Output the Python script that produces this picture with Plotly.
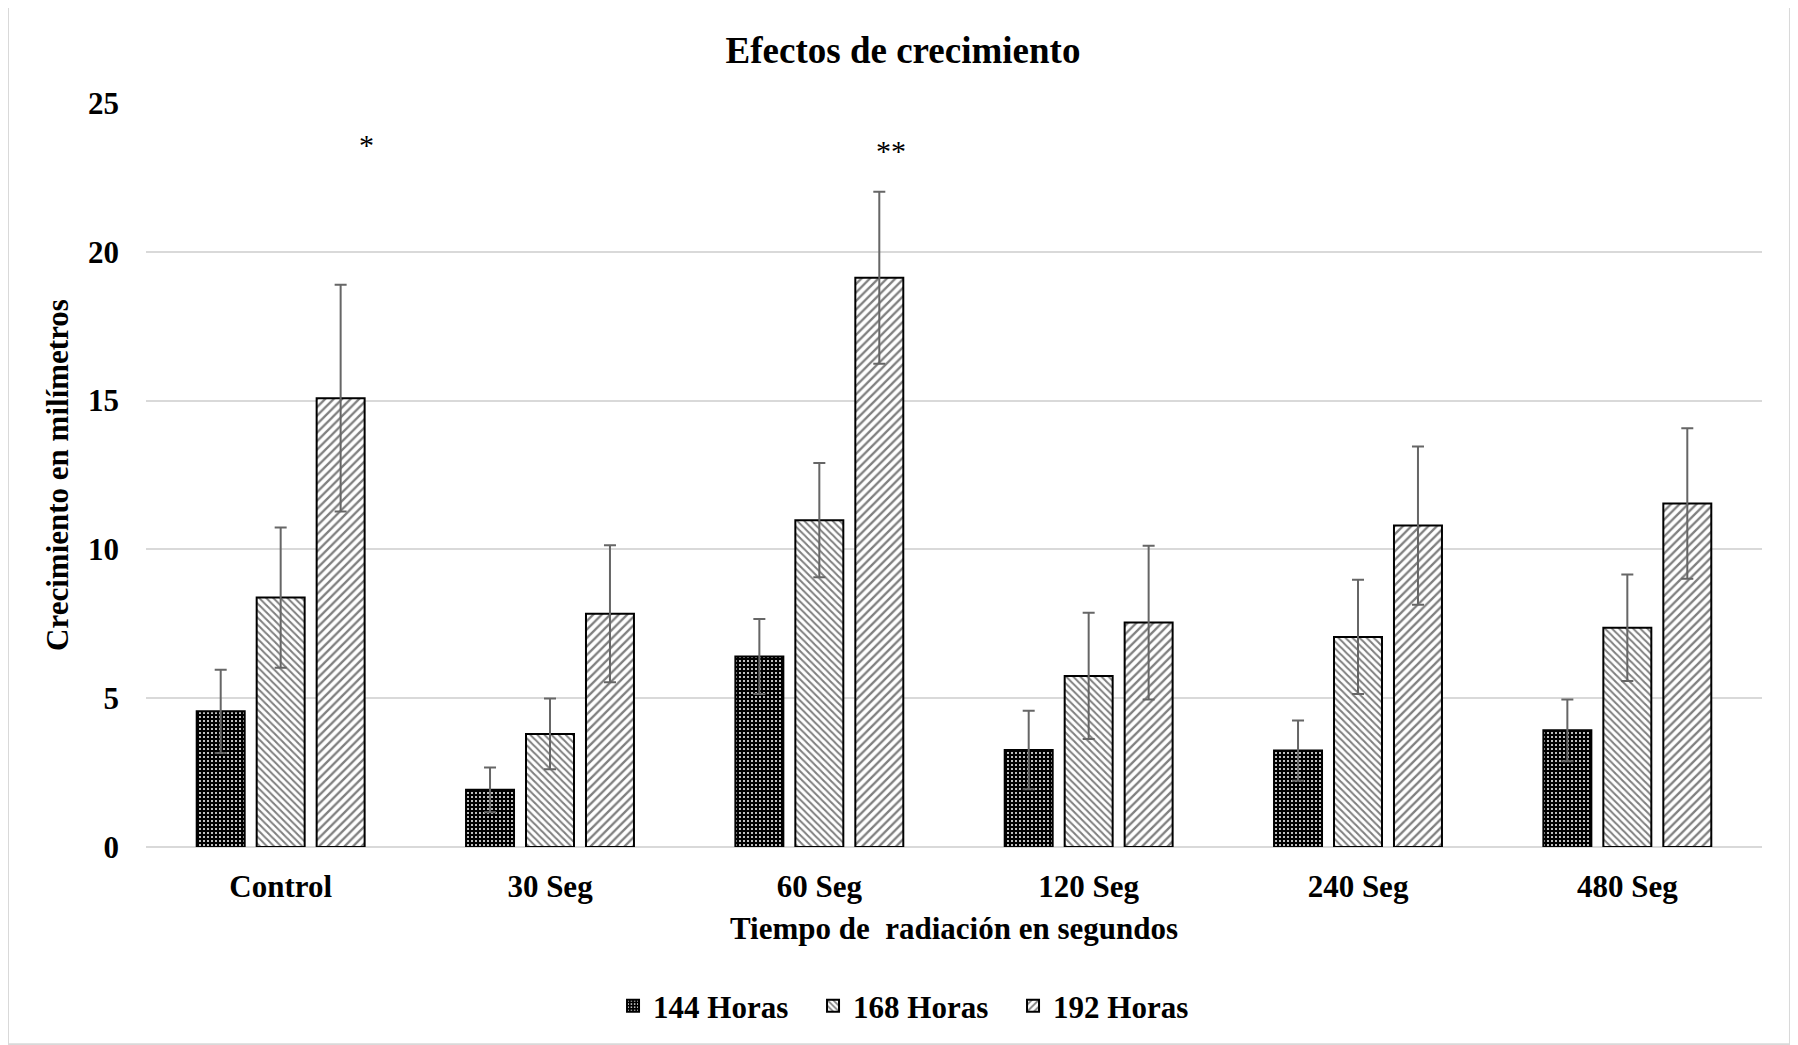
import plotly.graph_objects as go

categories = ["Control", "30 Seg", "60 Seg", "120 Seg", "240 Seg", "480 Seg"]
series_names = ["144 Horas", "168 Horas", "192 Horas"]
vals_144 = [4.56, 1.92, 6.40, 3.26, 3.24, 3.92]
vals_168 = [8.38, 3.80, 10.98, 5.75, 7.06, 7.37]
vals_192 = [15.08, 7.84, 19.13, 7.54, 10.80, 11.54]
err_144 = [1.40, 0.75, 1.26, 1.32, 1.01, 1.04]
err_168 = [2.36, 1.19, 1.92, 2.12, 1.92, 1.79]
err_192 = [3.81, 2.30, 2.89, 2.58, 2.66, 2.53]
y_ticks = [0, 5, 10, 15, 20, 25]
sig_marks = [("Control", 23.6, "*"), ("60 Seg", 23.4, "**")]

FONT = "Liberation Serif, Times New Roman, serif"
patterns = [
    dict(shape=".", bgcolor="black", fgcolor="white", size=4, solidity=0.2, fillmode="replace"),
    dict(shape="\\", bgcolor="white", fgcolor="black", size=5, solidity=0.4),
    dict(shape="/", bgcolor="white", fgcolor="black", size=6, solidity=0.38),
]

fig = go.Figure()
for name, vals, errs, pat in zip(series_names, [vals_144, vals_168, vals_192],
                                  [err_144, err_168, err_192], patterns):
    fig.add_trace(go.Bar(
        name=f"<b>{name}</b>", x=categories, y=vals,
        marker=dict(color="white" if pat["bgcolor"] == "white" else "black",
                    pattern=pat, line=dict(color="black", width=2)),
        error_y=dict(type="data", array=errs, visible=True, color="#666666",
                     thickness=2, width=6),
    ))

for cat, yv, txt in sig_marks:
    fig.add_annotation(x=cat, y=yv, text=txt, showarrow=False, xshift=86 if txt == "*" else 72,
                       font=dict(family=FONT, size=30, color="black"))

fig.add_shape(type="rect", xref="paper", yref="paper", x0=-0.0854, x1=1.0173, y0=-0.265, y1=1.129,
              line=dict(color="#d9d9d9", width=2), fillcolor="rgba(0,0,0,0)", layer="below")

fig.update_layout(
    width=1790, height=1037,
    margin=dict(l=138, r=36, t=95, b=190),
    paper_bgcolor="white", plot_bgcolor="white",
    title=dict(text="<b>Efectos de crecimiento</b>", x=0.5, xanchor="center",
               y=1 - 42 / 1037, yanchor="middle",
               font=dict(family=FONT, size=37, color="black")),
    barmode="group", bargap=0.332, bargroupgap=0.2,
    font=dict(family=FONT, size=31, color="black"),
    legend=dict(orientation="h", x=0.289, xanchor="left", y=-0.2137, yanchor="middle",
                font=dict(family=FONT, size=31, color="black"),
                itemwidth=30, traceorder="normal",
                entrywidth=155, entrywidthmode="pixels"),
    showlegend=True,
)
fig.update_xaxes(
    title=dict(text="<b>Tiempo de\u00a0 radiación en segundos</b>", standoff=14,
               font=dict(family=FONT, size=31)),
    tickfont=dict(family=FONT, size=31), tickprefix="<b>", ticksuffix="</b>",
    showline=False, ticks="", ticklabelstandoff=18,
)
fig.update_yaxes(
    range=[0, 25], tickvals=y_ticks, ticktext=[f"<b>{v}</b>" for v in y_ticks],
    tickfont=dict(family=FONT, size=31),
    showgrid=True, gridcolor="#d9d9d9", gridwidth=2,
    zeroline=True, zerolinecolor="#d9d9d9", zerolinewidth=2,
    ticks="", ticklabelstandoff=26,
    title=dict(text="<b>Crecimiento en milímetros</b>", standoff=10,
               font=dict(family=FONT, size=31)),
)
fig.write_html("out.html")
